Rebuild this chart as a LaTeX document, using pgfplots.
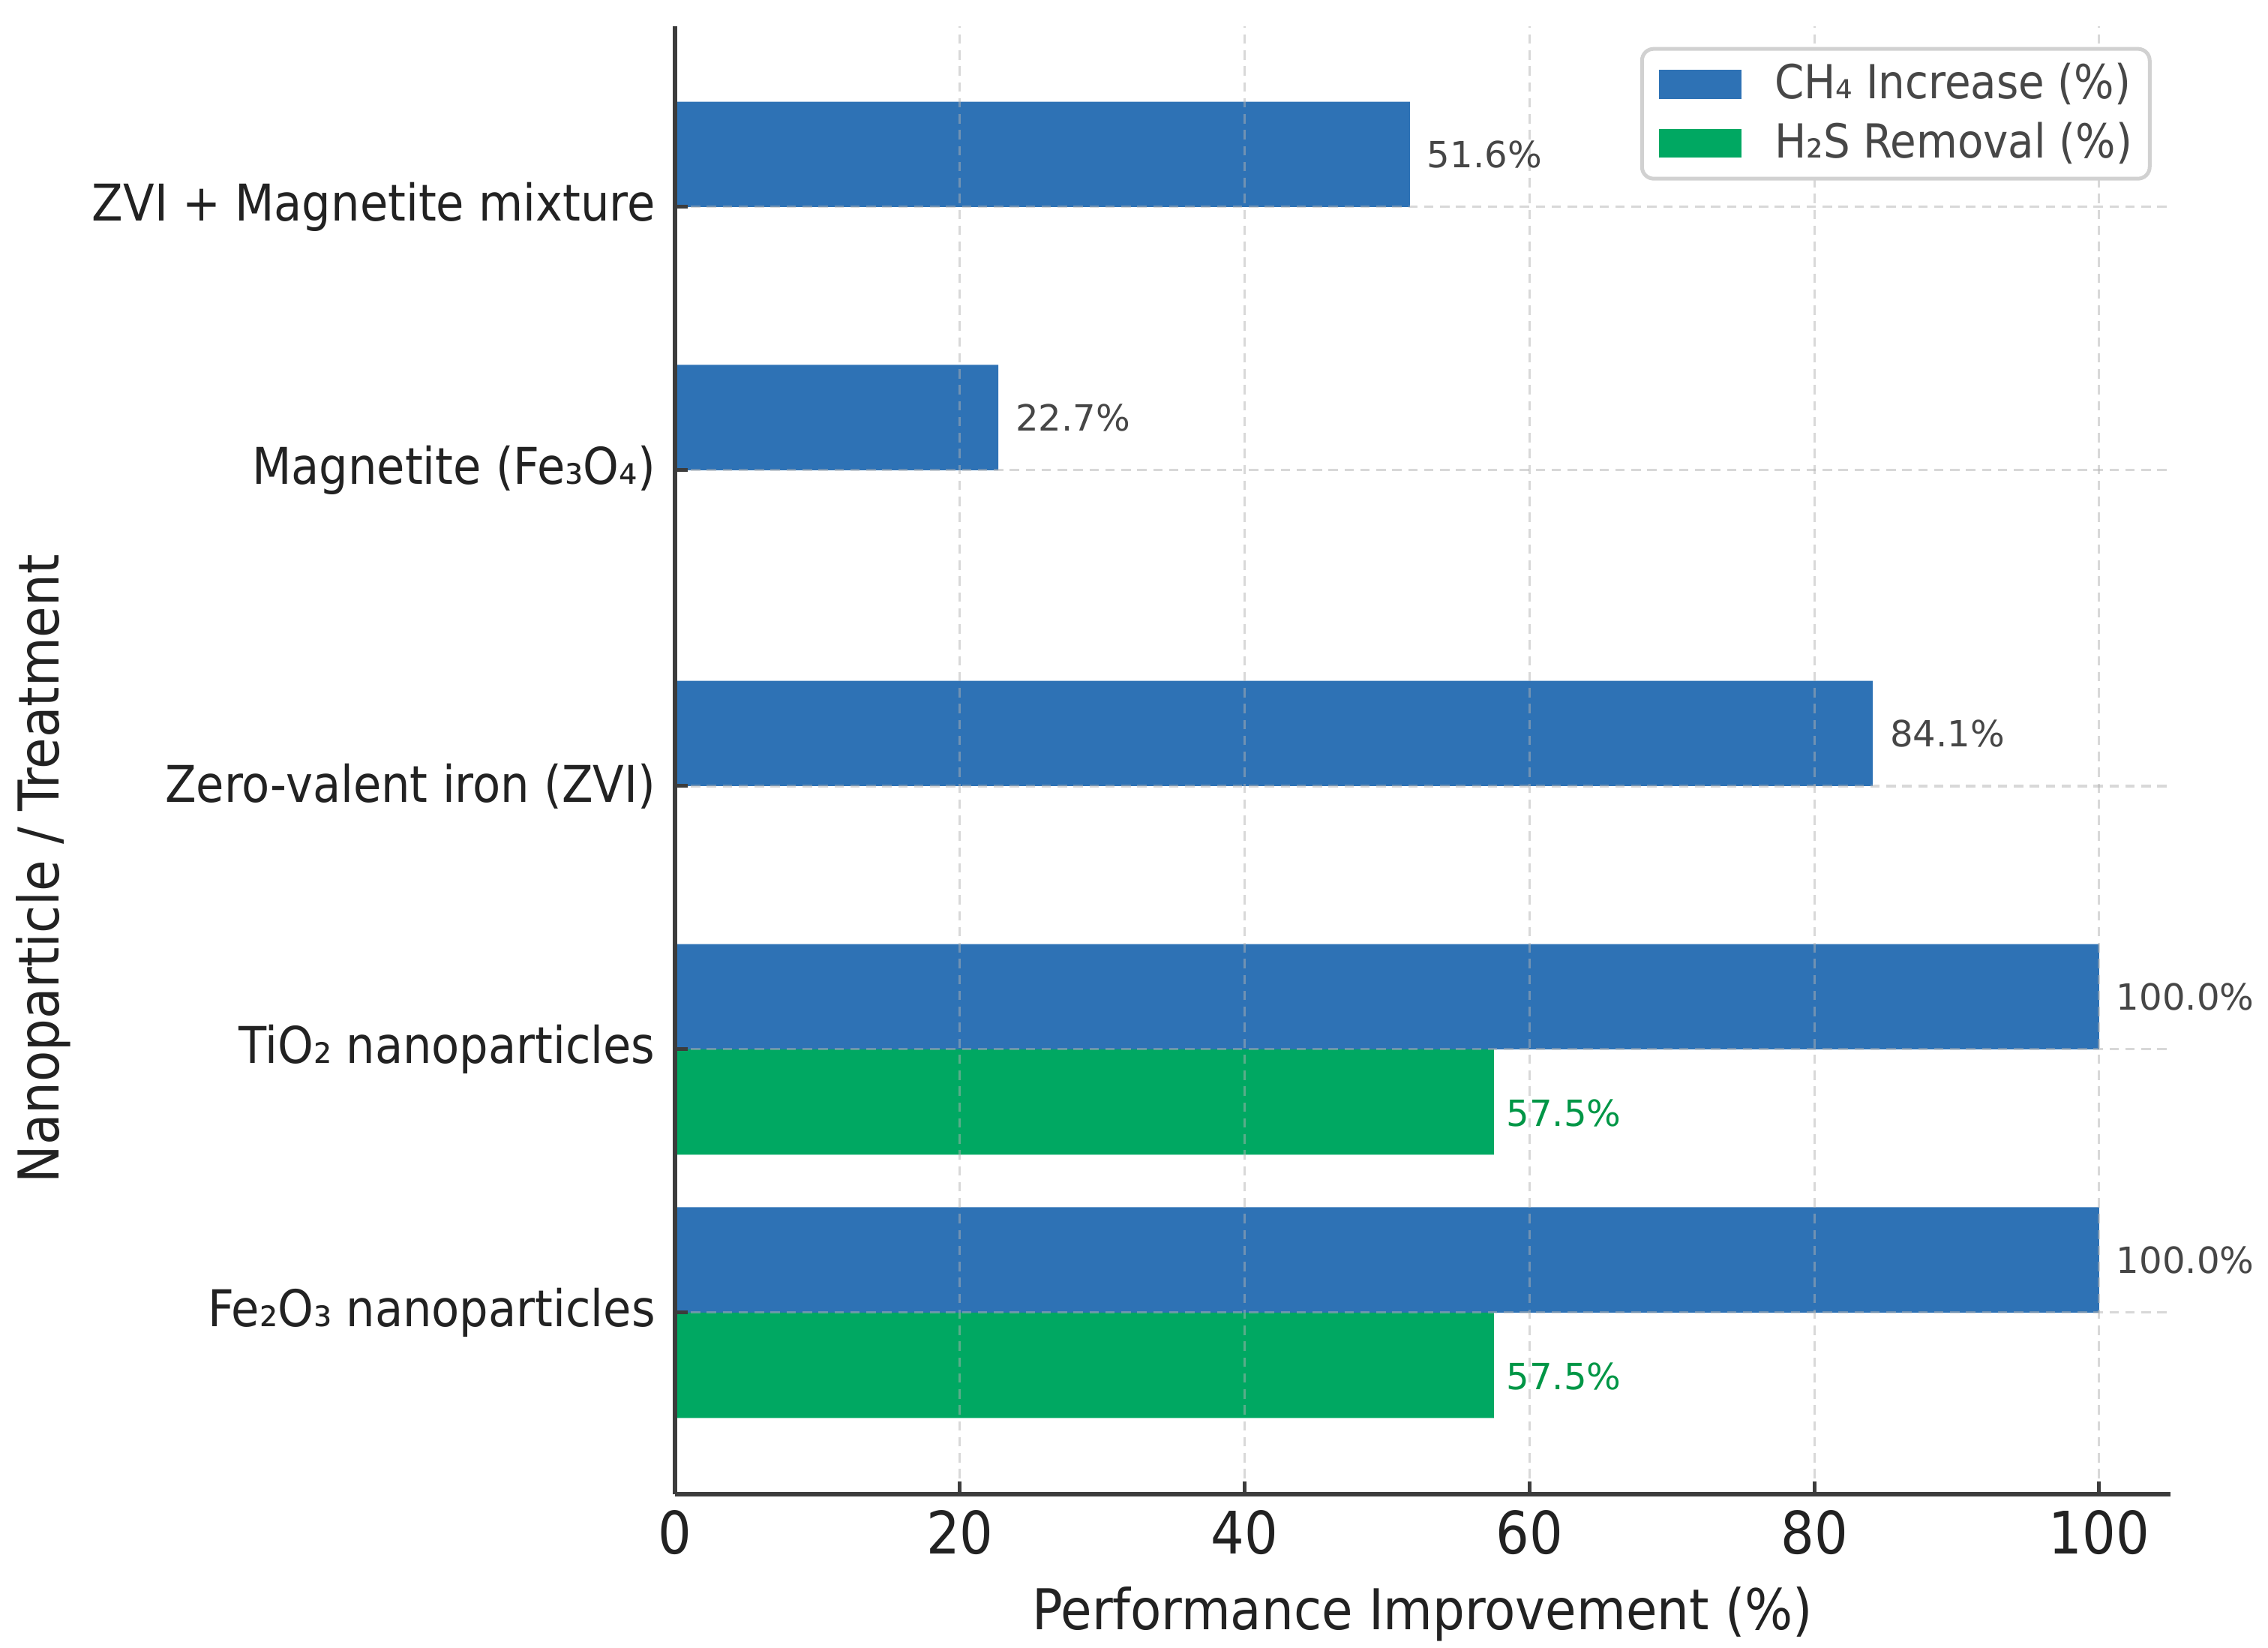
\documentclass[border=0pt]{standalone}
\usepackage{fontspec}
\setmainfont{DejaVu Sans}
\newfontfamily\condfont{DejaVu Sans Condensed}
\usepackage{pgfplots}
\pgfplotsset{compat=1.18}

\definecolor{barblue}{RGB}{46,114,181}
\definecolor{bargreen}{RGB}{0,168,98}
\definecolor{labgreen}{RGB}{0,150,70}
\definecolor{labgray}{RGB}{70,70,70}
\definecolor{txt}{RGB}{34,34,34}
\definecolor{spine}{RGB}{60,60,60}

\begin{document}
\begin{tikzpicture}
\useasboundingbox (-144pt,-32.64pt) rectangle (339.84pt,318.72pt);
\begin{axis}[
  at={(0,0)}, anchor=south west,
  width=319pt, height=313.1pt, scale only axis,
  xbar, bar width=0.4,
  xmin=0, xmax=105, ymin=-0.69, ymax=4.886,
  enlargelimits=false, clip=false,
  axis x line*=bottom, axis y line*=left,
  axis line style={spine, line width=1pt},
  axis on top,
  xtick={0,20,...,100},
  ytick={0,1,2,3.2,4.2},
  yticklabels={Fe₂O₃ nanoparticles, TiO₂ nanoparticles, Zero-valent iron (ZVI), Magnetite (Fe₃O₄), ZVI + Magnetite mixture},
  tick align=inside,
  major tick length=2.8pt,
  tick style={spine, line width=0.8pt},
  grid=major,
  major grid style={dash pattern=on 2pt off 1.4pt, black!30, line width=0.5pt, opacity=0.5},
  /pgf/number format/assume math mode=true,
  xticklabel style={font=\condfont\fontsize{12.5}{15}\selectfont, text=txt, inner sep=0pt, yshift=-3.3pt},
  yticklabel style={font=\condfont\fontsize{10.8}{13}\selectfont, text=txt, inner sep=0pt, xshift=-4pt},
  xlabel={Performance Improvement (\%)},
  xlabel style={font=\condfont\fontsize{12}{14}\selectfont, text=txt, at={(axis description cs:0.5,0)}, anchor=north, inner sep=0pt, yshift=-19.5pt},
  ylabel={Nanoparticle / Treatment},
  ylabel style={font=\condfont\fontsize{12}{14}\selectfont, text=txt, at={(axis description cs:-0.4223,0.426)}, anchor=center, inner sep=0pt},
  legend cell align=left,
  legend style={at={(axis description cs:1,1)}, anchor=north east, xshift=-4pt, yshift=-4.4pt,
    draw=black!18, line width=0.8pt, rounded corners=2.5pt, fill=white,
    font=\condfont\fontsize{10}{12}\selectfont, text=black!72,
    inner xsep=3.7pt, inner ysep=3pt, row sep=3.5pt, column sep=7pt, nodes={inner sep=0pt}},
  every axis plot post/.append style={legend image code/.code={\fill[##1, sharp corners] (0pt,-3.1pt) rectangle (17.6pt,3.1pt);}},
  point meta=x,
  nodes near coords={\pgfmathprintnumber[fixed,fixed zerofill,precision=1]{\pgfplotspointmeta}\%},
  every node near coord/.append style={font=\fontsize{7.7}{9}\selectfont, anchor=west, inner sep=0pt},
]
\addplot[fill=barblue, draw=none, bar shift=0.2,
  every node near coord/.append style={text=labgray, xshift=3.5pt}]
  coordinates {(100,0) (100,1) (84.1,2) (22.7,3.2) (51.6,4.2)};
\addplot[fill=bargreen, draw=none, bar shift=-0.2,
  every node near coord/.append style={text=labgreen, xshift=2.5pt, yshift=-2.4pt}]
  coordinates {(57.5,0) (57.5,1)};
\legend{CH₄ Increase (\%), H₂S Removal (\%)}
\end{axis}
\end{tikzpicture}
\end{document}
